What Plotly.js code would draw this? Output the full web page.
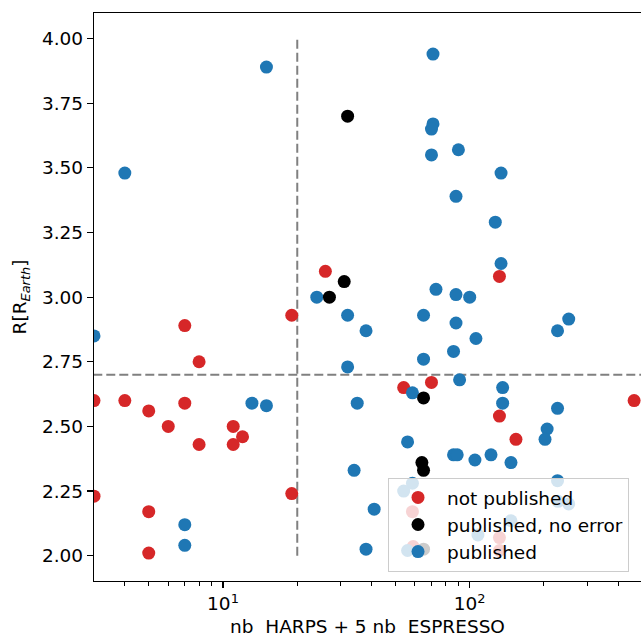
<!DOCTYPE html>
<html>
<head>
<meta charset="utf-8">
<script src="https://cdn.plot.ly/plotly-3.0.1.min.js"></script>
<style>
  html, body { margin: 0; padding: 0; background: #fff; overflow: hidden; }
  #chart { width: 641px; height: 639px; }
</style>
</head>
<body>
<div id="chart"></div>
<script>
// ---- data ----
const notPublishedX = [3, 3, 4, 5, 6, 7, 7, 8, 8, 11, 11, 12, 5, 5, 19, 19, 26, 132, 54, 70, 132, 154, 464, 58.6, 59, 132, 132];
const notPublishedY = [2.60, 2.23, 2.60, 2.56, 2.50, 2.89, 2.59, 2.75, 2.43, 2.50, 2.43, 2.46, 2.17, 2.01, 2.93, 2.24, 3.10, 3.08, 2.65, 2.67, 2.54, 2.45, 2.60, 2.17, 2.035, 2.07, 2.02];

const noErrorX = [32, 31, 27, 65, 64, 65, 65];
const noErrorY = [3.70, 3.06, 3.00, 2.61, 2.36, 2.33, 2.025];

const publishedX = [15, 4, 71, 71, 70, 70, 90, 134, 88, 127, 134, 73, 88, 100, 24, 32, 65, 88, 252, 38, 227, 106, 86, 65, 32, 91, 136, 58.6, 35, 136, 227, 206, 202, 56, 86, 89, 105, 122, 147, 34, 58.6, 227, 41, 38, 54, 56, 147, 108, 228, 252, 3, 13.1, 15, 7, 7];
const publishedY = [3.89, 3.48, 3.94, 3.67, 3.65, 3.55, 3.57, 3.48, 3.39, 3.29, 3.13, 3.03, 3.01, 3.00, 3.00, 2.93, 2.93, 2.90, 2.915, 2.87, 2.87, 2.84, 2.79, 2.76, 2.73, 2.68, 2.65, 2.63, 2.59, 2.59, 2.57, 2.49, 2.45, 2.44, 2.39, 2.39, 2.37, 2.39, 2.36, 2.33, 2.28, 2.29, 2.18, 2.025, 2.25, 2.02, 2.135, 2.08, 2.21, 2.20, 2.85, 2.59, 2.58, 2.12, 2.04];

const seriesNames = ["not published", "published, no error", "published"];
const xThreshold = 20;
const yThreshold = 2.7;
const vLineY = [2, 4];
const hLineX = [1, 1000];
const xTickVals = [10, 100];
const xTickText = ["10<sup>1</sup>", "10<sup>2</sup>"];
const xMinorTickVals = [4, 5, 6, 7, 8, 9, 20, 30, 40, 50, 60, 70, 80, 90, 200, 300, 400];

// ---- styling ----
const RED = "#d62728", BLACK = "#000000", BLUE = "#1f77b4";
const FONT = "DejaVu Sans, sans-serif";
const FS = 18.5;
const dashLine = { color: "#808080", width: 2, dash: "9px,4px" };
const mk = (c) => ({ color: c, size: 13, line: { width: 0 } });

const traces = [
  { x: [xThreshold, xThreshold], y: vLineY, mode: "lines", line: dashLine, showlegend: false, hoverinfo: "skip" },
  { x: hLineX, y: [yThreshold, yThreshold], mode: "lines", line: dashLine, showlegend: false, hoverinfo: "skip" },
  { x: notPublishedX, y: notPublishedY, mode: "markers", name: seriesNames[0], marker: mk(RED), legendrank: 1, cliponaxis: true },
  { x: publishedX, y: publishedY, mode: "markers", name: seriesNames[2], marker: mk(BLUE), legendrank: 3, cliponaxis: true },
  { x: noErrorX, y: noErrorY, mode: "markers", name: seriesNames[1], marker: mk(BLACK), legendrank: 2, cliponaxis: true }
];

const layout = {
  width: 641, height: 639,
  margin: { l: 94, r: 0, t: 13, b: 58, pad: 0 },
  paper_bgcolor: "#fff", plot_bgcolor: "#fff",
  font: { family: FONT, size: FS, color: "#000" },
  showlegend: true,
  legend: {
    x: 0.5375, y: 0.016, xanchor: "left", yanchor: "bottom",
    bgcolor: "rgba(255,255,255,0.8)", bordercolor: "#cccccc", borderwidth: 1,
    font: { family: FONT, size: FS, color: "#000" },
    itemwidth: 48, tracegroupgap: 0
  },
  xaxis: {
    type: "log",
    range: [Math.log10(3), Math.log10(3) + 547 / 246.7],
    tickvals: xTickVals, ticktext: xTickText,
    ticks: "outside", ticklen: 6, tickwidth: 1.2, tickcolor: "#000",
    minor: { tickmode: "array", tickvals: xMinorTickVals, ticks: "outside", ticklen: 3.5, tickwidth: 1, tickcolor: "#000", showgrid: false },
    showline: true, linecolor: "#000", linewidth: 1.2, mirror: true,
    showgrid: false, zeroline: false,
    tickfont: { family: FONT, size: FS },
    title: { text: "nb\u00a0\u00a0HARPS + 5 nb\u00a0\u00a0ESPRESSO", font: { family: FONT, size: FS }, standoff: 6 }
  },
  yaxis: {
    range: [1.902, 4.099],
    tick0: 2, dtick: 0.25, tickformat: ".2f",
    ticks: "outside", ticklen: 6, tickwidth: 1.2, tickcolor: "#000",
    showline: true, linecolor: "#000", linewidth: 1.2, mirror: false,
    showgrid: false, zeroline: false,
    tickfont: { family: FONT, size: FS },
    title: { text: "R[R<sub><i>Earth</i></sub>]", font: { family: FONT, size: FS }, standoff: 10 }
  }
};

Plotly.newPlot("chart", traces, layout, { staticPlot: true, displayModeBar: false });
</script>
</body>
</html>
